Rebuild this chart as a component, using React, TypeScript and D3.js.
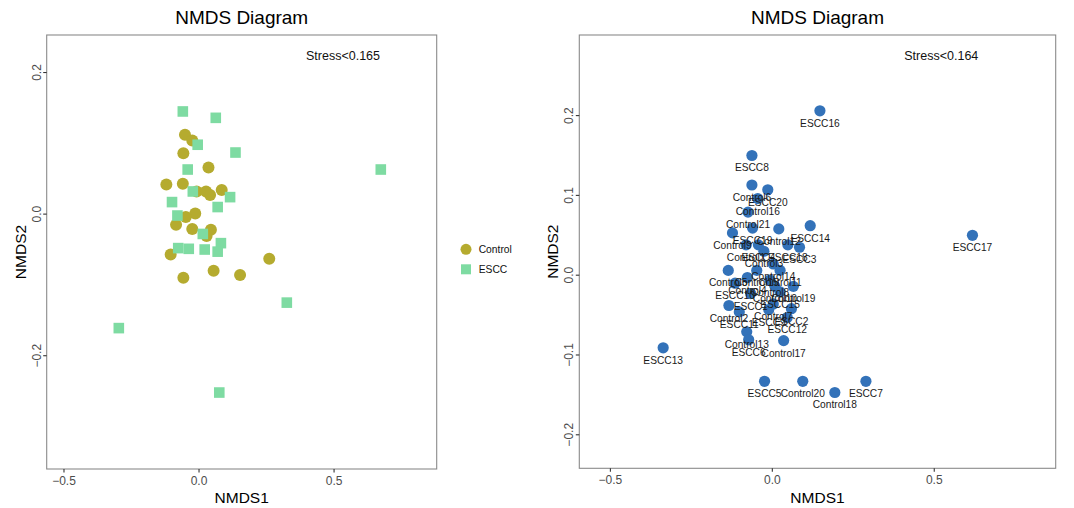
import React from "react";
import * as d3 from "d3";

// ---------- Left panel data ----------
const leftControlX = [-0.052, -0.025, -0.058, 0.035, -0.121, -0.06, -0.009, 0.026, 0.041, 0.084, -0.014, -0.049, -0.085, -0.025, 0.044, 0.028, -0.105, 0.26, 0.054, 0.152, -0.058];
const leftControlY = [0.112, 0.104, 0.086, 0.066, 0.042, 0.043, 0.032, 0.032, 0.027, 0.034, 0.001, -0.004, -0.015, -0.021, -0.022, -0.031, -0.057, -0.063, -0.08, -0.086, -0.09];
const leftEsccX = [-0.06, 0.062, -0.005, 0.135, -0.042, 0.673, -0.023, 0.115, -0.1, 0.069, -0.08, 0.014, 0.081, -0.077, -0.038, 0.021, 0.069, 0.325, -0.297, 0.075];
const leftEsccY = [0.145, 0.136, 0.098, 0.087, 0.063, 0.063, 0.032, 0.024, 0.017, 0.01, -0.002, -0.028, -0.041, -0.048, -0.049, -0.05, -0.053, -0.125, -0.161, -0.252];

// ---------- Right panel data ----------
const rightLabels = ["ESCC16", "ESCC8", "Control6", "ESCC20", "Control16", "Control21", "ESCC19", "Control12", "ESCC14", "Control9", "Control1", "ESCC4", "ESCC18", "ESCC3", "Control3", "Control14", "Control5", "Control15", "Control11", "Control4", "Control8", "ESCC10", "Control19", "Control10", "ESCC15", "ESCC1", "Control2", "Control7", "ESCC9", "ESCC2", "ESCC11", "ESCC12", "Control13", "ESCC6", "Control17", "ESCC13", "ESCC17", "ESCC5", "Control20", "Control18", "ESCC7"];
const rightX = [0.147, -0.063, -0.063, -0.014, -0.045, -0.075, -0.061, 0.02, 0.117, -0.123, -0.081, -0.043, 0.048, 0.084, -0.026, 0.003, -0.136, -0.048, 0.024, -0.077, -0.007, -0.115, 0.065, 0.008, 0.024, -0.067, -0.134, 0.003, -0.011, 0.059, -0.102, 0.046, -0.079, -0.073, 0.035, -0.337, 0.618, -0.024, 0.094, 0.193, 0.289];
const rightY = [0.206, 0.15, 0.113, 0.107, 0.096, 0.079, 0.059, 0.058, 0.062, 0.053, 0.038, 0.038, 0.038, 0.035, 0.03, 0.014, 0.006, 0.006, 0.006, -0.003, -0.006, -0.01, -0.014, -0.014, -0.021, -0.023, -0.038, -0.036, -0.043, -0.042, -0.046, -0.053, -0.071, -0.081, -0.082, -0.091, 0.05, -0.133, -0.133, -0.147, -0.133];

// ---------- Ticks & text ----------
const xTicks = [-0.5, 0.0, 0.5];
const leftYTicks = [-0.2, 0.0, 0.2];
const rightYTicks = [-0.2, -0.1, 0.0, 0.1, 0.2];
const legendItems = ["Control", "ESCC"];
const titleText = "NMDS Diagram";
const leftStress = "Stress<0.165";
const rightStress = "Stress<0.164";

const FONT = "'Liberation Sans', Arial, Helvetica, sans-serif";
const OLIVE = "#B5AB2F";
const GREEN = "#7EDBA2";
const BLUE = "#3372B9";
const BORDER = "#8a8a8a";
const TICKCOL = "#4d4d4d";

const fmt = (v: number) => (v < 0 ? "\u2212" : "") + Math.abs(v).toFixed(1);

type PanelProps = {
  left: number; right: number; top: number; bottom: number;
  xDomain: [number, number]; yDomain: [number, number];
  yTicks: number[]; stress: string; stressX: number;
  children: (x: d3.ScaleLinear<number, number>, y: d3.ScaleLinear<number, number>) => React.ReactNode;
};

function Panel(p: PanelProps) {
  const x = d3.scaleLinear().domain(p.xDomain).range([p.left, p.right]);
  const y = d3.scaleLinear().domain(p.yDomain).range([p.bottom, p.top]);
  const cx = (p.left + p.right) / 2;
  const cy = (p.top + p.bottom) / 2;
  return (
    <g>
      <text x={cx} y={24} textAnchor="middle" fontSize={19} fill="#000" fontFamily={FONT}>{titleText}</text>
      <rect x={p.left} y={p.top} width={p.right - p.left} height={p.bottom - p.top} fill="white" />
      {p.children(x, y)}
      <rect x={p.left} y={p.top} width={p.right - p.left} height={p.bottom - p.top} fill="none" stroke={BORDER} strokeWidth={1.1} />
      <text x={p.stressX} y={60} textAnchor="middle" fontSize={12.5} fill="#111" fontFamily={FONT}>{p.stress}</text>
      {xTicks.map((t) => (
        <g key={"x" + t}>
          <line x1={x(t)} x2={x(t)} y1={p.bottom} y2={p.bottom + 3.5} stroke="#333" strokeWidth={1.1} />
          <text x={x(t)} y={p.bottom + 16} textAnchor="middle" fontSize={12} fill={TICKCOL} fontFamily={FONT}>{fmt(t)}</text>
        </g>
      ))}
      {p.yTicks.map((t) => (
        <g key={"y" + t}>
          <line x1={p.left - 3.5} x2={p.left} y1={y(t)} y2={y(t)} stroke="#333" strokeWidth={1.1} />
          <text transform={`translate(${p.left - 6},${y(t)}) rotate(-90)`} textAnchor="middle" fontSize={12} fill={TICKCOL} fontFamily={FONT}>{fmt(t)}</text>
        </g>
      ))}
      <text x={cx} y={503} textAnchor="middle" fontSize={15.5} fill="#000" fontFamily={FONT}>NMDS1</text>
      <text transform={`translate(${p.left - 21},${cy}) rotate(-90)`} textAnchor="middle" fontSize={15.5} fill="#000" fontFamily={FONT}>NMDS2</text>
    </g>
  );
}

export default function App() {
  return (
    <svg width={1074} height={508} style={{ position: "absolute", left: 0, top: 0, background: "white" }}>
      <rect width={1074} height={508} fill="white" />
      <Panel left={46.7} right={436.7} top={35} bottom={469} xDomain={[-0.564, 0.88]} yDomain={[-0.36, 0.253]}
        yTicks={leftYTicks} stress={leftStress} stressX={343}>
        {(x, y) => (
          <g>
            {leftControlX.map((v, i) => (
              <circle key={"c" + i} cx={x(v)} cy={y(leftControlY[i])} r={6} fill={OLIVE} />
            ))}
            {leftEsccX.map((v, i) => (
              <rect key={"s" + i} x={x(v) - 5.3} y={y(leftEsccY[i]) - 5.3} width={10.6} height={10.6} fill={GREEN} />
            ))}
          </g>
        )}
      </Panel>
      {/* legend */}
      <g fontFamily={FONT}>
        <circle cx={466} cy={249.3} r={5.5} fill={OLIVE} />
        <text x={478.7} y={253} fontSize={10.3} fill="#111">{legendItems[0]}</text>
        <rect x={461} y={264.3} width={10} height={10} fill={GREEN} />
        <text x={478.7} y={273} fontSize={10.3} fill="#111">{legendItems[1]}</text>
      </g>
      <Panel left={579.3} right={1055.7} top={35} bottom={468.3} xDomain={[-0.596, 0.875]} yDomain={[-0.242, 0.301]}
        yTicks={rightYTicks} stress={rightStress} stressX={941.3}>
        {(x, y) => (
          <g>
            {rightX.map((v, i) => (
              <circle key={"p" + i} cx={x(v)} cy={y(rightY[i])} r={5.6} fill={BLUE} />
            ))}
            {rightX.map((v, i) => (
              <text key={"l" + i} x={x(v)} y={y(rightY[i]) + 16} textAnchor="middle" fontSize={10.2} fill="#1a1a1a" fontFamily={FONT}>{rightLabels[i]}</text>
            ))}
          </g>
        )}
      </Panel>
    </svg>
  );
}
